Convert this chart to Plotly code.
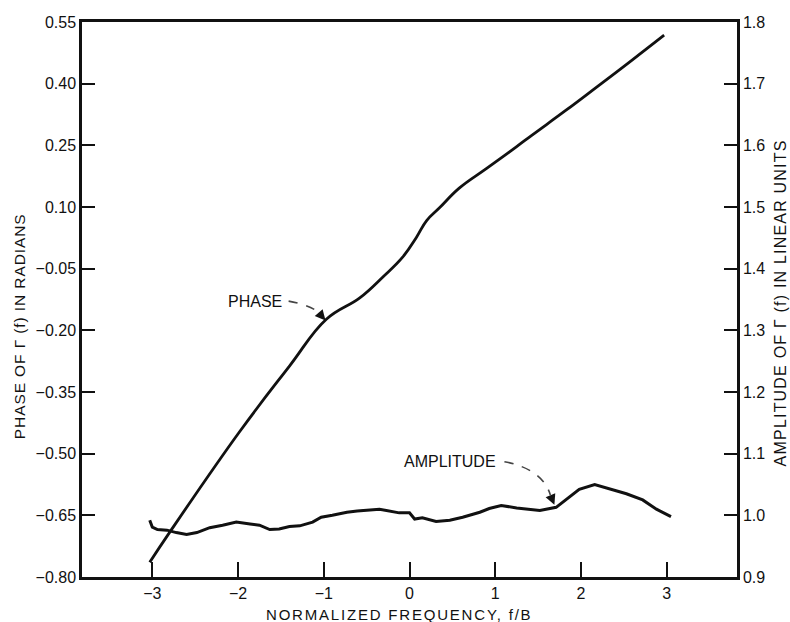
import plotly.graph_objects as go

# Normalized frequency samples (f/B) and phase of Γ(f) in radians
phase_f = [-3.03, -2.80, -1.98, -1.40, -0.97, -0.58, -0.31, -0.08, 0.08, 0.20,
           0.35, 0.58, 0.90, 1.25, 1.43, 1.83, 2.21, 2.60, 2.97]
phase_rad = [-0.764, -0.692, -0.446, -0.287, -0.173, -0.121, -0.070, -0.022, 0.026, 0.067,
             0.098, 0.146, 0.194, 0.247, 0.275, 0.336, 0.396, 0.458, 0.518]

# Amplitude of Γ(f) in linear units
amp_f = [-3.03, -3.00, -2.94, -2.83, -2.72, -2.60, -2.48, -2.33, -2.18, -2.02,
         -1.86, -1.75, -1.63, -1.52, -1.40, -1.28, -1.13, -1.03, -0.90, -0.73,
         -0.61, -0.35, -0.12, 0.00, 0.06, 0.15, 0.31, 0.47, 0.62, 0.82,
         0.93, 1.07, 1.25, 1.40, 1.52, 1.71, 1.83, 1.98, 2.16, 2.33,
         2.53, 2.72, 2.88, 3.05]
amp_lin = [0.992, 0.981, 0.977, 0.976, 0.972, 0.969, 0.972, 0.980, 0.984, 0.989,
           0.986, 0.984, 0.977, 0.978, 0.982, 0.983, 0.989, 0.997, 1.000, 1.005,
           1.007, 1.010, 1.004, 1.004, 0.994, 0.996, 0.990, 0.992, 0.997, 1.005,
           1.011, 1.016, 1.012, 1.010, 1.008, 1.013, 1.026, 1.042, 1.050, 1.043,
           1.035, 1.025, 1.010, 0.998]

x_ticks = [-3, -2, -1, 0, 1, 2, 3]
phase_ticks = [-0.80, -0.65, -0.50, -0.35, -0.20, -0.05, 0.10, 0.25, 0.40, 0.55]
amp_ticks = [0.9, 1.0, 1.1, 1.2, 1.3, 1.4, 1.5, 1.6, 1.7, 1.8]

FONT = "Liberation Sans, Arial, sans-serif"
INK = "#111111"


def spaced(text, px):
    """Wrap a label in a span with extra letter spacing."""
    return f'<span style="letter-spacing:{px}px">{text}</span>'


fig = go.Figure()
fig.add_trace(go.Scatter(x=phase_f, y=phase_rad, mode="lines", yaxis="y",
                         line=dict(color=INK, width=2.8, shape="spline", smoothing=1.2),
                         showlegend=False, hoverinfo="skip"))
fig.add_trace(go.Scatter(x=amp_f, y=amp_lin, mode="lines", yaxis="y2",
                         line=dict(color=INK, width=3),
                         showlegend=False, hoverinfo="skip"))

axis_common = dict(showgrid=False, zeroline=False, showline=True, linecolor=INK,
                   linewidth=2.5, ticks="inside", tickwidth=2, tickcolor=INK,
                   automargin=False,
                   tickfont=dict(family=FONT, size=16, color=INK))

fig.update_layout(
    width=790, height=622,
    margin=dict(l=82, r=53, t=22, b=45),
    paper_bgcolor="white", plot_bgcolor="white",
    font=dict(family=FONT, color=INK),
    xaxis=dict(axis_common, range=[-3.82, 3.82], tickvals=x_ticks, ticklen=15,
               mirror=True),
    yaxis=dict(axis_common, range=[-0.80, 0.55], tickvals=phase_ticks, ticklen=13,
               tickformat=".2f"),
    yaxis2=dict(axis_common, range=[0.9, 1.8], tickvals=amp_ticks, ticklen=13,
                tickformat=".1f", overlaying="y", side="right"),
)

# Axis titles
title_font = dict(family=FONT, size=15, color=INK)
fig.add_annotation(xref="paper", yref="paper", x=0.484, y=-0.0667,
                   xanchor="center", yanchor="middle", showarrow=False,
                   text=spaced("NORMALIZED FREQUENCY, f/B", 1.8), font=title_font)
fig.add_annotation(xref="paper", yref="paper", x=-0.0962, y=0.452,
                   xanchor="center", yanchor="middle", showarrow=False, textangle=-90,
                   text=spaced("PHASE OF Γ (f) IN RADIANS", 0.9),
                   font=dict(family=FONT, size=15.5, color=INK))
fig.add_annotation(xref="paper", yref="paper", x=1.067, y=0.4946,
                   xanchor="center", yanchor="middle", showarrow=False, textangle=-90,
                   text=spaced("AMPLITUDE OF Γ (f) IN LINEAR UNITS", 1.2),
                   font=dict(family=FONT, size=16, color=INK))

# Curve labels with dashed leader lines ending in arrowheads
fig.add_annotation(x=-1.80, y=-0.13, xref="x", yref="y", text="PHASE",
                   showarrow=False, font=dict(family=FONT, size=16, color=INK))
fig.add_shape(type="path", xref="x", yref="y",
              path="M -1.41,-0.129 Q -1.14,-0.139 -1.05,-0.159",
              line=dict(color="#444444", width=1.6, dash="dash"))
fig.add_annotation(x=-0.98, y=-0.176, xref="x", yref="y", ax=-1.05, ay=-0.159,
                   axref="x", ayref="y", text="", showarrow=True, arrowhead=2,
                   arrowsize=1.3, arrowwidth=1.6, arrowcolor=INK)

fig.add_annotation(x=0.47, y=1.088, xref="x", yref="y2", text="AMPLITUDE",
                   showarrow=False, font=dict(family=FONT, size=16, color=INK))
fig.add_shape(type="path", xref="x", yref="y2",
              path="M 1.107,1.087 Q 1.55,1.075 1.643,1.033",
              line=dict(color="#444444", width=1.6, dash="dash"))
fig.add_annotation(x=1.69, y=1.017, xref="x", yref="y2", ax=1.643, ay=1.033,
                   axref="x", ayref="y2", text="", showarrow=True, arrowhead=2,
                   arrowsize=1.3, arrowwidth=1.6, arrowcolor=INK)

fig.write_html("out.html")
